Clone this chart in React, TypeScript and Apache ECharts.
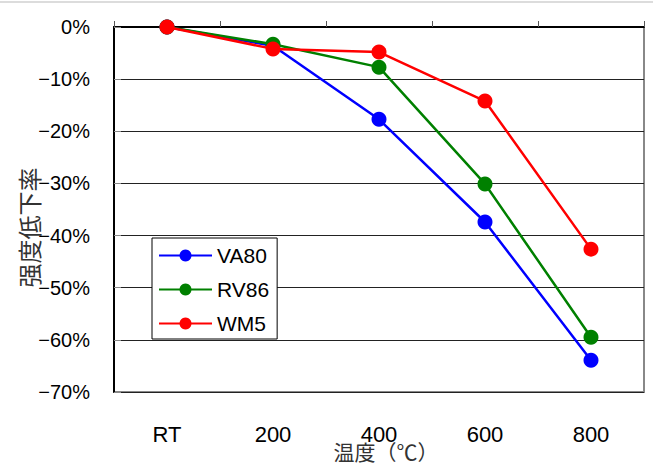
import React, { useEffect, useRef } from "react";
import * as echarts from "echarts";

const categories = ["RT", "200", "400", "600", "800"];
const va80 = [0, -3.6, -17.7, -37.4, -63.9];
const rv86 = [0, -3.3, -7.7, -30.1, -59.5];
const wm5 = [0, -4.2, -4.8, -14.2, -42.6];
const seriesNames = ["VA80", "RV86", "WM5"];
const seriesColors = ["#0000ff", "#008000", "#ff0000"];

export default function App() {
  const ref = useRef<HTMLDivElement>(null);
  useEffect(() => {
    const chart = echarts.init(ref.current!, null, { renderer: "svg" });
    const datasets = [va80, rv86, wm5];
    chart.setOption({
      animation: false,
      backgroundColor: "#ffffff",
      textStyle: { fontFamily: "Liberation Sans, Arial, sans-serif" },
      graphic: [
        {
          type: "line",
          shape: { x1: 0, y1: 2, x2: 653, y2: 2 },
          style: { stroke: "#d0d0d0", lineWidth: 1.5 },
        },
      ],
      grid: {
        left: 114,
        right: 9,
        top: 27,
        bottom: 78,
        containLabel: false,
        outerBoundsMode: "none",
        show: true,
        borderColor: "#888888",
        borderWidth: 2,
        backgroundColor: "transparent",
      },
      legend: {
        orient: "vertical",
        left: 152,
        top: 238,
        data: seriesNames,
        borderColor: "#000000",
        borderWidth: 1,
        backgroundColor: "#ffffff",
        padding: [7, 8, 5, 6],
        itemWidth: 53,
        itemHeight: 15,
        itemGap: 13,
        textStyle: { fontSize: 21, color: "#000000", fontFamily: "Liberation Sans, Arial, sans-serif" },
      },
      xAxis: {
        type: "category",
        data: categories,
        boundaryGap: true,
        name: "温度（℃）",
        nameLocation: "middle",
        nameGap: 48,
        nameMoveOverlap: false,
        nameTextStyle: {
          fontSize: 21,
          color: "#333333",
          fontFamily: "Noto Sans CJK JP",
          padding: [0, 0, 0, 14],
        },
        axisLine: { show: true, lineStyle: { color: "#000000", width: 2 } },
        axisTick: { show: true, inside: true, length: 6, lineStyle: { color: "#555555" } },
        axisLabel: { fontSize: 22, color: "#000000", margin: 31 },
        splitLine: { show: false },
      },
      yAxis: {
        type: "value",
        min: -70,
        max: 0,
        interval: 10,
        name: "强度低下率",
        nameLocation: "middle",
        nameGap: 74,
        nameMoveOverlap: false,
        nameTextStyle: {
          fontSize: 24,
          color: "#333333",
          fontFamily: "Noto Sans CJK JP",
          padding: [0, 36, 0, 0],
        },
        axisLine: { show: true, lineStyle: { color: "#000000", width: 2 } },
        axisTick: { show: true, inside: true, length: 7, lineStyle: { color: "#888888" } },
        axisLabel: {
          fontSize: 20,
          color: "#000000",
          margin: 24,
          padding: [4, 0, 0, 0],
          formatter: (v: number) => (v < 0 ? "\u2212" + Math.abs(v) : String(v)) + "%",
        },
        splitLine: { show: true, lineStyle: { color: "#222222", width: 1 } },
      },
      series: seriesNames.map((n, i) => ({
        name: n,
        type: "line",
        data: datasets[i],
        symbol: "circle",
        symbolSize: 15,
        color: seriesColors[i],
        lineStyle: { width: 2.5, color: seriesColors[i] },
        itemStyle: { color: seriesColors[i] },
        z: 3 + i,
      })),
    });
    return () => chart.dispose();
  }, []);
  return (
    <div
      ref={ref}
      style={{ position: "absolute", left: 0, top: 0, width: 653, height: 470 }}
    />
  );
}
